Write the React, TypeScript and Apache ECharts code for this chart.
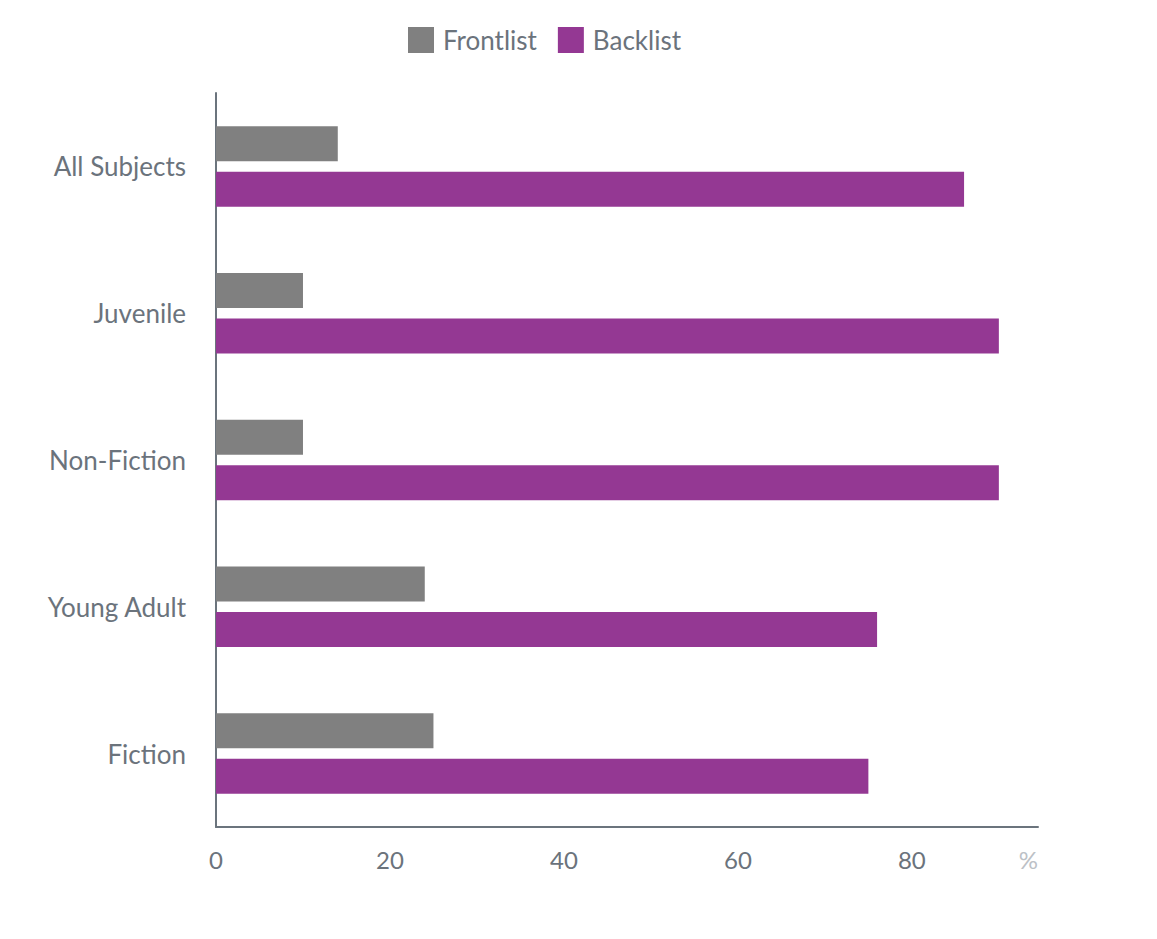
import React, { useEffect, useRef } from 'react';
import * as echarts from 'echarts';

const categories = ['Fiction', 'Young Adult', 'Non-Fiction', 'Juvenile', 'All Subjects'];
const frontlist = [25, 24, 10, 10, 14];
const backlist = [75, 76, 90, 90, 86];
const xTicks = [0, 20, 40, 60, 80];

const textColor = '#6b737c';
const axisColor = '#6b747d';

const App: React.FC = () => {
  const chartRef = useRef<HTMLDivElement>(null);

  useEffect(() => {
    if (!chartRef.current) return;
    const chart = echarts.init(chartRef.current, undefined, { renderer: 'svg' });

    const option: echarts.EChartsOption = {
      animation: false,
      textStyle: { fontFamily: 'Lato' },
      legend: {
        top: 22,
        left: 403,
        itemWidth: 26,
        itemHeight: 26,
        itemGap: 21,
        icon: 'rect',
        itemStyle: { borderRadius: 2 },
        data: ['Frontlist', 'Backlist'],
        textStyle: { color: textColor, fontSize: 26, fontFamily: 'Lato', padding: [0, 0, 0, 4] },
      },
      grid: {
        left: 216,
        right: 119,
        top: 93,
        bottom: 112,
      },
      xAxis: {
        type: 'value',
        min: 0,
        max: 94.5,
        interval: 20,
        splitLine: { show: false },
        axisTick: { show: false },
        axisLine: { show: true, lineStyle: { color: axisColor, width: 2 } },
        axisLabel: {
          color: textColor,
          fontSize: 24,
          margin: 20,
          formatter: (v: number) => (xTicks.includes(v) ? String(v) : ''),
        },
        name: '%',
        nameLocation: 'end',
        nameGap: 0,
        nameTextStyle: {
          color: '#bcc1c6',
          fontSize: 24,
          align: 'right',
          verticalAlign: 'top',
          padding: [20, 0, 0, 0],
        },
      },
      yAxis: {
        type: 'category',
        data: categories,
        axisTick: { show: false },
        axisLine: { show: true, lineStyle: { color: axisColor, width: 2 } },
        axisLabel: { color: textColor, fontSize: 26, margin: 30 },
      },
      series: [
        {
          name: 'Frontlist',
          type: 'bar',
          data: frontlist,
          barWidth: 35,
          barGap: '30%',
          itemStyle: { color: '#808080' },
        },
        {
          name: 'Backlist',
          type: 'bar',
          data: backlist,
          barWidth: 35,
          barGap: '30%',
          itemStyle: { color: '#943893' },
        },
      ],
    };

    chart.setOption(option);

    const handleResize = () => chart.resize();
    window.addEventListener('resize', handleResize);
    return () => {
      window.removeEventListener('resize', handleResize);
      chart.dispose();
    };
  }, []);

  return (
    <div
      ref={chartRef}
      style={{ position: 'absolute', left: 0, top: 0, width: '1157px', height: '939px' }}
    />
  );
};

export default App;
